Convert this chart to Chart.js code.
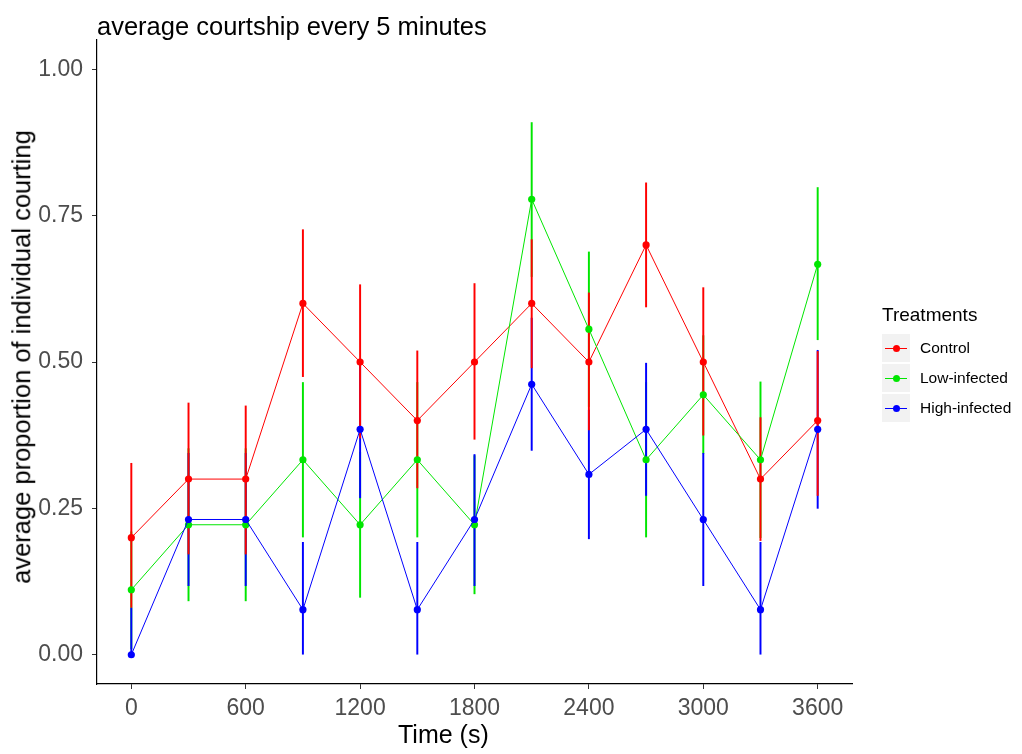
<!DOCTYPE html>
<html>
<head>
<meta charset="utf-8">
<script src="https://cdn.jsdelivr.net/npm/chart.js@4.4.1/dist/chart.umd.min.js"></script>
<style>
  body { margin: 0; background: #fff; font-family: "Liberation Sans", Arial, sans-serif; }
  #wrap { position: relative; width: 1022px; height: 754px; }
  #plotTitle { position: absolute; left: 97px; top: 14px; font-size: 25.5px; line-height: 1; color: #000; white-space: nowrap; }
  #xTitle { position: absolute; left: 398px; top: 722px; font-size: 25px; line-height: 1; color: #000; white-space: nowrap; }
  #yTitle { position: absolute; left: 22px; top: 357px; font-size: 25.5px; line-height: 1; color: #000; white-space: nowrap;
            transform: translate(-50%, -50%) rotate(-90deg); }
  #legend { position: absolute; left: 882px; top: 305px; }
  #legend .ttl { font-size: 19px; line-height: 1; margin-bottom: 9px; }
  #legend .row { display: flex; align-items: center; height: 30px; }
  #legend .key { position: relative; width: 28px; height: 28px; background: #f2f2f2; margin-right: 10px; }
  #legend .key .ln { position: absolute; left: 3px; right: 3px; top: 13.5px; height: 1px; }
  #legend .key .dt { position: absolute; left: 10.5px; top: 10.5px; width: 7px; height: 7px; border-radius: 50%; }
  #legend .lbl { font-size: 15.5px; }
</style>
</head>
<body>
<div id="wrap">
  <canvas id="chart"></canvas>
  <div id="plotTitle">average courtship every 5 minutes</div>
  <div id="yTitle">average proportion of individual courting</div>
  <div id="xTitle">Time (s)</div>
  <div id="legend"></div>
</div>
<script>
// time points (s)
const times = [0, 300, 600, 900, 1200, 1500, 1800, 2100, 2400, 2700, 3000, 3300, 3600];
const xTicks = [0, 600, 1200, 1800, 2400, 3000, 3600];
const yTicks = [0, 0.25, 0.5, 0.75, 1];

// means
const controlMean = [0.2, 0.3, 0.3, 0.6, 0.5, 0.4, 0.5, 0.6, 0.5, 0.7, 0.5, 0.3, 0.4];
const lowMean     = [0.111, 0.222, 0.222, 0.333, 0.222, 0.333, 0.222, 0.778, 0.556, 0.333, 0.444, 0.333, 0.667];
const highMean    = [0, 0.231, 0.231, 0.077, 0.385, 0.077, 0.231, 0.462, 0.308, 0.385, 0.231, 0.077, 0.385];

// error bar ends
const controlLo = [0.081, 0.172, 0.172, 0.475, 0.37, 0.285, 0.368, 0.49, 0.384, 0.594, 0.375, 0.195, 0.272];
const controlHi = [0.327, 0.43, 0.425, 0.726, 0.632, 0.519, 0.634, 0.709, 0.618, 0.806, 0.627, 0.405, 0.518];
const lowLo     = [0.01, 0.092, 0.092, 0.201, 0.098, 0.201, 0.104, 0.646, 0.424, 0.201, 0.344, 0.2, 0.538];
const lowHi     = [0.21, 0.352, 0.352, 0.465, 0.346, 0.465, 0.34, 0.909, 0.688, 0.465, 0.545, 0.466, 0.798];
const highLo    = [0, 0.118, 0.118, 0, 0.268, 0, 0.118, 0.349, 0.198, 0.272, 0.118, 0, 0.25];
const highHi    = [0.08, 0.344, 0.344, 0.192, 0.502, 0.192, 0.342, 0.575, 0.418, 0.498, 0.344, 0.192, 0.52];

const treatments = ["Control", "Low-infected", "High-infected"];
const colors = ["#ff0000", "#00e600", "#0000ff"];

const pts = (m) => times.map((t, i) => ({ x: t, y: m[i] }));
const bars = (lo, hi) => times.map((t, i) => ({ x: t, y: [lo[i], hi[i]] }));

const errDs = (lo, hi, col, ord) => ({
    type: "bar", data: bars(lo, hi), backgroundColor: col, borderWidth: 0,
    barThickness: 1.3, grouped: false, order: ord
});
const lineDs = (m, col, ord, name) => ({
    type: "line", label: name, data: pts(m), borderColor: col, borderWidth: 1,
    pointRadius: 3.6, pointBackgroundColor: col, pointBorderWidth: 0, tension: 0, order: ord
});

new Chart(document.getElementById("chart"), {
    type: "line",
    data: {
        datasets: [
            errDs(lowLo, lowHi, colors[1], 6),
            errDs(highLo, highHi, colors[2], 5),
            errDs(controlLo, controlHi, colors[0], 4),
            lineDs(controlMean, colors[0], 3, treatments[0]),
            lineDs(lowMean, colors[1], 2, treatments[1]),
            lineDs(highMean, colors[2], 1, treatments[2])
        ]
    },
    options: {
        responsive: true,
        maintainAspectRatio: false,
        animation: false,
        layout: { padding: { top: 40, right: 170, bottom: 0, left: 0 } },
        plugins: { legend: { display: false }, tooltip: { enabled: false } },
        scales: {
            x: {
                type: "linear", min: -180, max: 3780, offset: false,
                afterBuildTicks: (s) => { s.ticks = xTicks.map(v => ({ value: v })); },
                afterFit: (s) => { s.height = 70; },
                ticks: { color: "#4d4d4d", font: { family: "Liberation Sans", size: 23 }, padding: 6, maxRotation: 0,
                         callback: (v) => String(v) },
                grid: { offset: false, drawOnChartArea: false, drawTicks: true, tickLength: 5, color: "#333" },
                border: { display: true, color: "#000", width: 1.2 }
            },
            y: {
                type: "linear", min: -0.05, max: 1.05,
                afterBuildTicks: (s) => { s.ticks = yTicks.map(v => ({ value: v })); },
                afterFit: (s) => { s.width = 97; },
                ticks: { color: "#4d4d4d", font: { family: "Liberation Sans", size: 23 }, padding: 9,
                         callback: (v) => Number(v).toFixed(2) },
                grid: { offset: false, drawOnChartArea: false, drawTicks: true, tickLength: 5, color: "#333" },
                border: { display: true, color: "#000", width: 1.2 }
            }
        }
    }
});

// legend
const leg = document.getElementById("legend");
leg.innerHTML = '<div class="ttl">Treatments</div>' + treatments.map((n, i) =>
    `<div class="row"><div class="key"><div class="ln" style="background:${colors[i]}"></div>` +
    `<div class="dt" style="background:${colors[i]}"></div></div><div class="lbl">${n}</div></div>`).join("");
</script>
</body>
</html>
